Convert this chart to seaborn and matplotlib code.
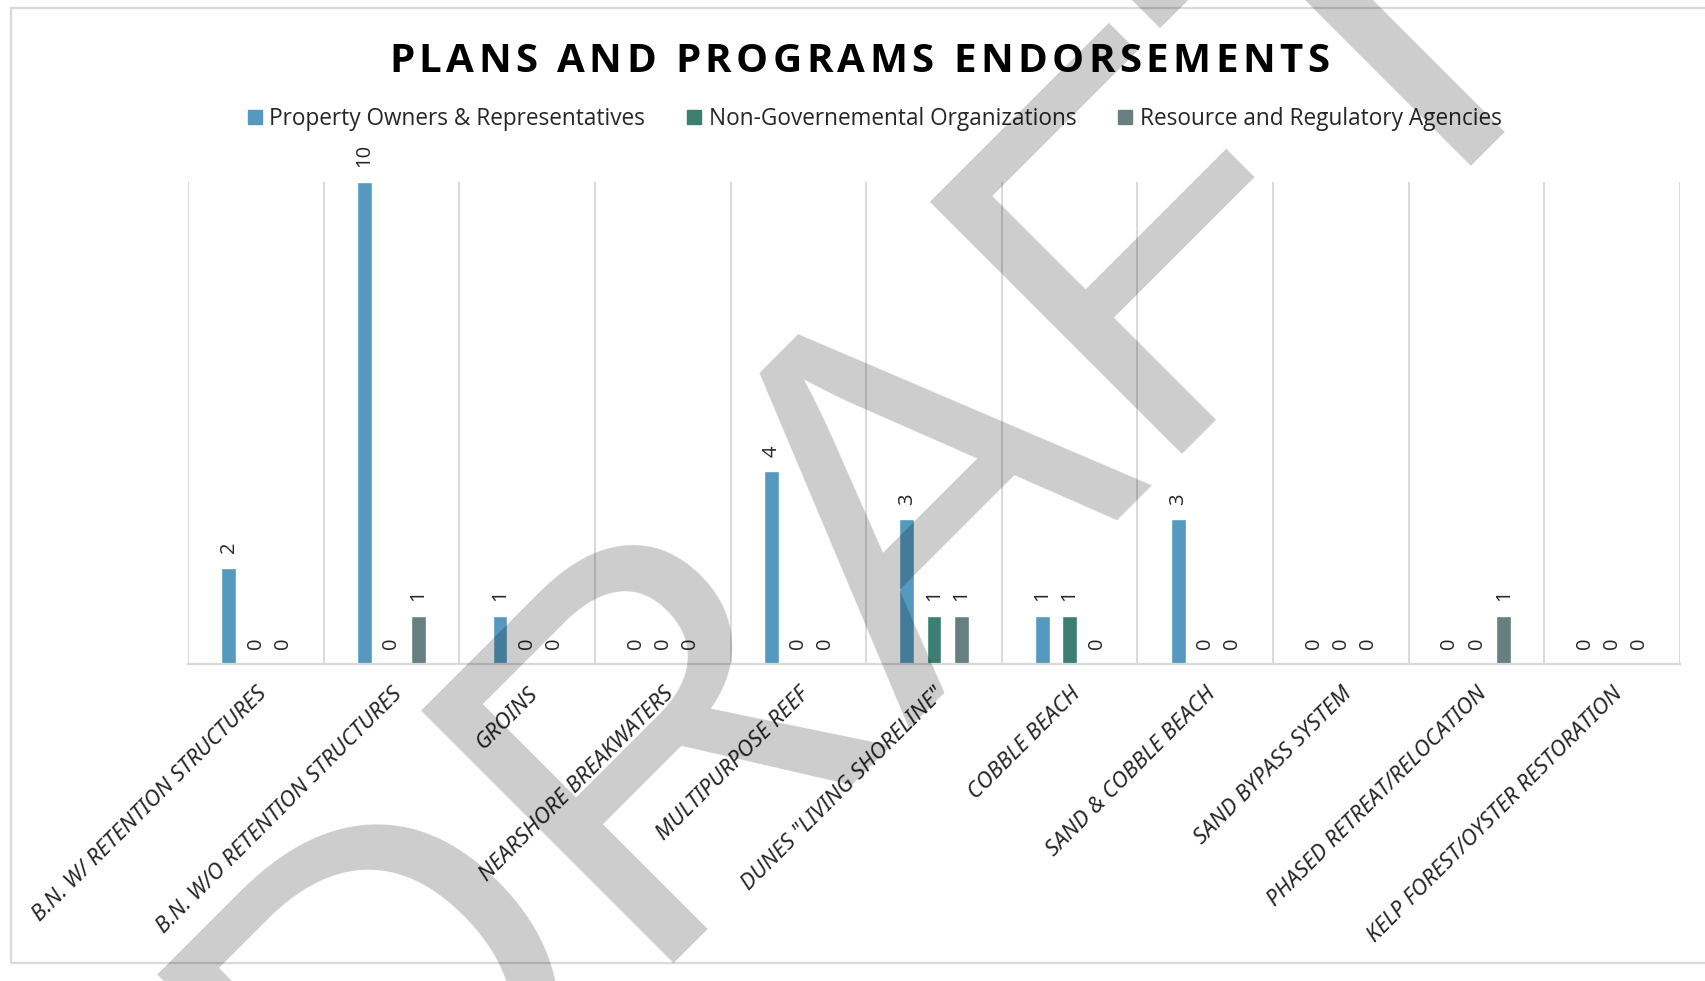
import matplotlib
matplotlib.use("Agg")
import matplotlib.pyplot as plt
import seaborn as sns
import pandas as pd
import numpy as np
from matplotlib.lines import Line2D
from matplotlib.patches import Rectangle

# ---- data ----
categories = [
    "B.N. W/ RETENTION STRUCTURES",
    "B.N. W/O RETENTION STRUCTURES",
    "GROINS",
    "NEARSHORE BREAKWATERS",
    "MULTIPURPOSE REEF",
    'DUNES "LIVING SHORELINE"',
    "COBBLE BEACH",
    "SAND & COBBLE BEACH",
    "SAND BYPASS SYSTEM",
    "PHASED RETREAT/RELOCATION",
    "KELP FOREST/OYSTER RESTORATION",
]
property_owners = [2, 10, 1, 0, 4, 3, 1, 3, 0, 0, 0]
ngos = [0, 0, 0, 0, 0, 1, 1, 0, 0, 0, 0]
agencies = [0, 1, 0, 0, 0, 1, 0, 0, 0, 1, 0]
series_names = [
    "Property Owners & Representatives",
    "Non-Governemental Organizations",
    "Resource and Regulatory Agencies",
]
series_colors = ["#5599bf", "#3b7f73", "#687f81"]
title_text = "PLANS AND PROGRAMS ENDORSEMENTS"
watermark_text = "DRAFT"

df = pd.DataFrame({
    "category": categories * 3,
    "group": [series_names[0]] * 11 + [series_names[1]] * 11 + [series_names[2]] * 11,
    "count": property_owners + ngos + agencies,
})

sns.set_theme(style="white")
plt.rcParams["font.family"] = ["Open Sans", "DejaVu Sans"]

W, H = 1705, 981
fig = plt.figure(figsize=(W / 100, H / 100), dpi=100)
fig.patch.set_facecolor("white")

ax = fig.add_axes([188 / W, 1 - 664 / H, (1680 - 188) / W, (664 - 182) / H])
sns.barplot(data=df, x="category", y="count", hue="group", order=categories,
            hue_order=series_names, palette=series_colors, saturation=1,
            width=0.6, gap=0.45, legend=False, ax=ax, zorder=2)

ax.set_xlim(-0.5, 10.5)
ax.set_ylim(0, 10)
for xb in np.arange(-0.5, 11.0, 1.0):
    ax.axvline(xb, color="#d9d9d9", lw=1.4, zorder=0)
for side in ["left", "right", "top"]:
    ax.spines[side].set_visible(False)
ax.spines["bottom"].set_color("#d9d9d9")
ax.spines["bottom"].set_linewidth(1.6)
ax.set_yticks([])
ax.set_xlabel("")
ax.set_ylabel("")
ax.set_xticks(range(len(categories)))
ax.set_xticklabels(categories, rotation=45, ha="right", rotation_mode="anchor",
                   fontsize=16, fontstyle="italic", family=["Noto Sans", "DejaVu Sans"])
ax.tick_params(axis="x", length=0, pad=14)

for cont in ax.containers:
    ax.bar_label(cont, fmt="{:.0f}", rotation=90, padding=10.5, fontsize=14.5)

# chart border
fig.patches.append(Rectangle((11 / W, 1 - 963 / H), 2, (963 - 8) / H,
                             transform=fig.transFigure, fill=False,
                             edgecolor="#d9d9d9", lw=1.6))

# legend
handles = [Line2D([], [], marker="s", linestyle="", markersize=10.5, color=c)
           for c in series_colors]
fig.legend(handles, series_names, loc="center", bbox_to_anchor=(874 / W, 1 - 119 / H),
           ncol=3, frameon=False, fontsize=16.3, handlelength=0.7,
           handletextpad=0.3, columnspacing=1.8)

# title with letter spacing
renderer = fig.canvas.get_renderer()
tsize = 29
spacing = 4.4
chars = []
widths = []
for ch in title_text:
    t = fig.text(0, 0, ch if ch != " " else "\u00a0", fontsize=tsize, fontweight="bold",
                 ha="left", va="center", color="#000000")
    chars.append(t)
    widths.append(t.get_window_extent(renderer).width)
total = sum(widths) + spacing * (len(chars) - 1)
x0 = 859 - total / 2
for t, w in zip(chars, widths):
    t.set_position((x0 / W, 1 - 62 / H))
    x0 += w + spacing

# watermark
fig.text(977.5 / W, 1 - 616.5 / H, watermark_text, rotation=45, fontsize=373,
         family="Liberation Sans", color="black", alpha=0.2, ha="center",
         va="baseline", rotation_mode="anchor", zorder=10)

fig.savefig("out.png", dpi=100)
